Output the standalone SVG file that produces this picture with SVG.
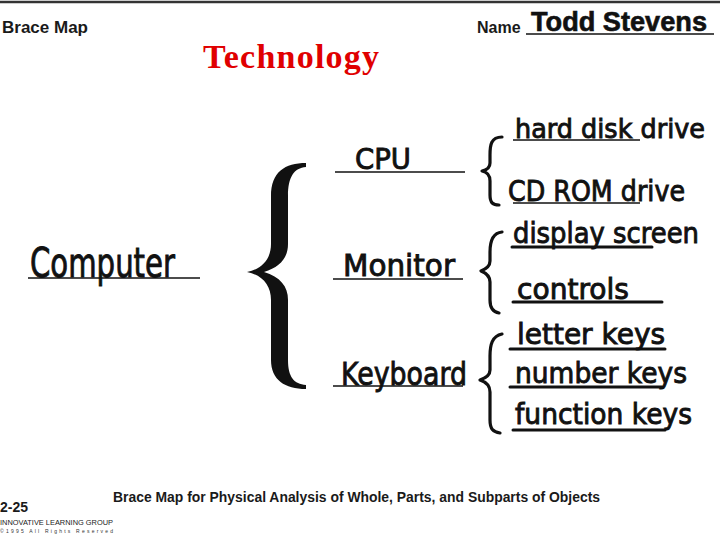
<svg xmlns="http://www.w3.org/2000/svg" width="720" height="540" viewBox="0 0 720 540">
<style>
.hdr{font-family:"Liberation Sans",Arial,sans-serif;font-weight:bold;fill:#1a1a1a}
.hand{font-family:"DejaVu Sans","Liberation Sans",sans-serif;fill:#111;stroke:#111;stroke-width:0.9}
.thin{stroke:#111;stroke-width:1.5;fill:none}
.thick{stroke:#111;stroke-width:3;fill:none;stroke-linecap:round}
.brace{stroke:#111;stroke-width:3.2;fill:none;stroke-linecap:round;stroke-linejoin:round}
</style>
<rect width="720" height="540" fill="#fff"/>
<line x1="0" y1="2" x2="720" y2="2" stroke="#333" stroke-width="2.5"/>

<g id="header">
  <text class="hdr" x="2" y="33" font-size="17">Brace Map</text>
  <text x="203" y="68" font-family="Liberation Serif,Times New Roman,serif" font-weight="bold" font-size="34" fill="#e00000" textLength="176">Technology</text>
  <text class="hdr" x="477" y="33" font-size="16">Name</text>
  <line class="thin" x1="526" y1="34" x2="714" y2="34"/>
  <text x="531" y="31" font-family="Liberation Sans,Arial,sans-serif" font-weight="bold" font-size="27" fill="#111" stroke="#111" stroke-width="0.6" textLength="176" lengthAdjust="spacingAndGlyphs">Todd Stevens</text>
</g>

<g id="connectors">
  <path id="brace-main" fill="#111" d="M306,163 C285,163 271,172 271,196 L271,244 C271,259 262,269 247,272 C262,275 271,285 271,300 L271,360 C271,380 285,389 306,389 L306,385 C294,384 288,377 288,360 L288,300 C288,286 280,277 264,272 C280,267 288,258 288,244 L288,196 C288,177 294,168 306,167 Z"/>
  <path id="brace-cpu" class="brace" d="M502,137 C491,137 490,145 490,155 L490,163 C490,168 487,170 482,171 C487,172 490,175 490,181 L490,195 C490,203 493,205 499,205"/>
  <path id="brace-monitor" class="brace" d="M502,232 C492,233 490,242 490,252 L490,261 C490,266 486,269 481,271 C486,273 490,276 490,282 L490,300 C490,308 493,312 499,313"/>
  <path id="brace-keyboard" class="brace" d="M502,334 C492,336 490,345 490,356 L490,370 C490,375 486,378 480,380 C486,382 490,386 490,392 L490,420 C490,429 493,432 500,433"/>
</g>

<g id="node-computer">
  <text class="hand" x="30" y="277" font-size="40" textLength="145" lengthAdjust="spacingAndGlyphs">Computer</text>
  <line class="thin" x1="28" y1="278" x2="200" y2="278"/>
</g>

<g id="node-cpu">
  <text class="hand" x="355" y="169" font-size="29" textLength="56" lengthAdjust="spacingAndGlyphs">CPU</text>
  <line class="thin" x1="335" y1="172" x2="465" y2="172"/>
</g>
<g id="node-monitor">
  <text class="hand" x="343" y="276" font-size="30" textLength="112" lengthAdjust="spacingAndGlyphs">Monitor</text>
  <line class="thin" x1="333" y1="279" x2="463" y2="279"/>
</g>
<g id="node-keyboard">
  <text class="hand" x="341" y="385" font-size="32" textLength="126" lengthAdjust="spacingAndGlyphs">Keyboard</text>
  <line class="thin" x1="333" y1="386" x2="463" y2="386"/>
</g>

<g id="node-hard-disk">
  <text class="hand" x="515" y="138" font-size="26" textLength="190" lengthAdjust="spacingAndGlyphs">hard disk drive</text>
  <line class="thin" x1="513" y1="140" x2="640" y2="140"/>
</g>
<g id="node-cdrom">
  <text class="hand" x="508" y="201" font-size="28" textLength="177" lengthAdjust="spacingAndGlyphs">CD ROM drive</text>
  <line class="thin" x1="513" y1="203" x2="640" y2="203"/>
</g>
<g id="node-display">
  <text class="hand" x="513" y="243" font-size="28" textLength="186" lengthAdjust="spacingAndGlyphs">display screen</text>
  <line class="thick" x1="512" y1="247" x2="652" y2="247"/>
</g>
<g id="node-controls">
  <text class="hand" x="517" y="299" font-size="28" textLength="112" lengthAdjust="spacingAndGlyphs">controls</text>
  <line class="thick" x1="513" y1="302" x2="662" y2="302"/>
</g>
<g id="node-letter">
  <text class="hand" x="517" y="344" font-size="28" textLength="148" lengthAdjust="spacingAndGlyphs">letter keys</text>
  <line class="thick" x1="510" y1="349" x2="665" y2="349"/>
</g>
<g id="node-number">
  <text class="hand" x="515" y="383" font-size="28" textLength="172" lengthAdjust="spacingAndGlyphs">number keys</text>
  <line class="thick" x1="510" y1="387" x2="662" y2="387"/>
</g>
<g id="node-function">
  <text class="hand" x="515" y="424" font-size="28" textLength="177" lengthAdjust="spacingAndGlyphs">function keys</text>
  <line class="thick" x1="513" y1="430" x2="665" y2="430"/>
</g>

<g id="footer">
  <text class="hdr" x="113" y="502" font-size="14" textLength="487" lengthAdjust="spacingAndGlyphs">Brace Map for Physical Analysis of Whole, Parts, and Subparts of Objects</text>
  <text class="hdr" x="0" y="512" font-size="14">2-25</text>
  <text x="0" y="525" font-family="Liberation Sans,Arial,sans-serif" font-size="8" fill="#222" textLength="113" lengthAdjust="spacingAndGlyphs">INNOVATIVE LEARNING GROUP</text>
  <text x="0" y="533" font-family="Liberation Sans,Arial,sans-serif" font-size="5" fill="#333" textLength="113" lengthAdjust="spacing">©1995    All    Rights    Reserved</text>
</g>
</svg>
